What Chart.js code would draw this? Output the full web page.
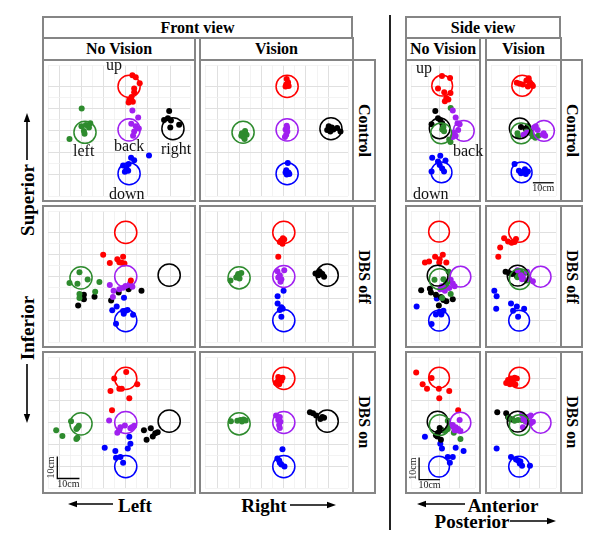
<!DOCTYPE html>
<html><head><meta charset="utf-8">
<script src="https://cdn.jsdelivr.net/npm/chart.js@4.4.1/dist/chart.umd.min.js"></script>
<style>
body{margin:0;background:#fff;}
#root{position:relative;width:600px;height:537px;overflow:hidden;font-family:"Liberation Serif","DejaVu Serif",serif;background:#fff;}
.box{position:absolute;box-sizing:border-box;border:2px solid #858585;background:#fff;}
.strip{display:flex;align-items:center;justify-content:center;font-weight:bold;font-size:16px;color:#000;}
.vtext{writing-mode:vertical-rl;}
.lbl{position:absolute;font-size:16px;line-height:16px;white-space:nowrap;color:#111;}
.ax{position:absolute;font-weight:bold;font-size:19px;line-height:19px;white-space:nowrap;transform:translate(-50%,-50%);}
canvas{position:absolute;}
svg{position:absolute;left:0;top:0;}
</style></head><body><div id="root"></div>
<script>
// ---------- data (cm) ----------
const TARGET_RADIUS = 5;
const ORDER = ['up','back','left','right','down'];
const COLORS = {up:'#ff0000', back:'#a020f0', left:'#2e8b2e', right:'#000000', down:'#0000ff'};

// target centres
const FRONT_TARGETS_CONTROL = {up:[1.5,20], back:[1.5,0.3], left:[-18.4,-0.8], right:[21.3,0.8], down:[1.5,-19.6]};
const FRONT_TARGETS = {up:[0,20], back:[0,0], left:[-20.2,-0.6], right:[19.6,0.6], down:[0,-20]};
const SIDE_TARGETS_CONTROL = {up:[1.5,20.3], back:[11.9,-0.2], left:[1.0,-1.3], right:[0.3,1.0], down:[1.2,-19.0]};
const SIDE_TARGETS = {up:[0,20.3], back:[10.3,-0.1], left:[0.3,-1.2], right:[-0.7,0.4], down:[0,-20]};

// front view, no vision
const FRONT_NV_CONTROL = {
  up:[[3.0,25.1],[4.5,24.1],[6.3,21.4],[3.8,19.0],[3.8,17.3],[2.6,15.2],[1.6,14.0],[3.2,13.0],[1.3,12.7]],
  back:[[3.0,9.1],[5.6,5.9],[2.5,3.1],[4.5,1.9],[5.9,0.9],[3.8,-0.5],[3.3,-2.4]],
  left:[[-19.9,10.0],[-20.0,1.9],[-18.0,2.5],[-16.0,3.3],[-16.6,1.4],[-18.9,-0.2],[-18.6,-1.5],[-25.4,-3.8]],
  right:[[19.6,8.8],[17.3,4.8],[19.0,5.6],[20.4,4.5],[20.1,1.4],[24.1,2.6]],
  down:[[10.5,-11.3],[2.4,-12.3],[3.8,-13.5],[1.3,-15.2],[-1.2,-15.9],[0.3,-17.0],[-0.4,-18.7],[1.1,-18.3]]
};
const FRONT_NV_OFF = {
  up:[[-10.2,9.9],[-7.2,6.1],[-3.8,7.8],[-2.9,6.5],[-1.2,8.9],[-1.8,6.2],[-0.6,5.9],[2.3,-1.8]],
  back:[[-7.2,-3.9],[-5.5,-6.5],[-5.8,-9.3],[-2.9,-5.8],[-1.2,-5.1],[-0.1,-4.3],[3.0,-4.6],[1.9,-3.2]],
  left:[[-20.9,1.9],[-25.4,-2.9],[-21.8,-3.3],[-17.2,-1.4],[-11.9,-2.5],[-20.9,-7.9],[-13.8,-6.9],[-20.9,-9.7]],
  right:[[-21.5,-13.2],[-18.9,-8.3],[-18.9,-10.3],[-14.1,-9.2],[-6.6,-10.9],[-3.2,-7.2],[1.3,-5.8],[7.1,-6.5]],
  down:[[-0.8,-9.6],[-4.1,-13.6],[-6.1,-15.3],[-1.2,-15.7],[-0.1,-15.5],[0.8,-15.2],[-0.9,-16.9],[3.3,-17.3],[-4.4,-21.4]]
};
const FRONT_NV_ON = {
  up:[[0.2,22.9],[-5.2,20.0],[-2.9,15.3],[-1.8,15.3],[5.2,17.4],[-6.9,14.3],[1.6,11.0],[-6.2,5.6]],
  back:[[-7.5,0.9],[-2.4,-2.1],[-0.4,-1.4],[-3.8,-4.6],[-2.9,-3.5],[2.8,-2.1],[3.8,-1.5],[2.1,-2.6]],
  left:[[-24.7,0.6],[-22.3,-2.9],[-21.2,-1.5],[-21.8,-2.4],[-31.4,-3.5],[-28.6,-6.1],[-22.3,-7.5],[-21.8,-6.9]],
  right:[[8.2,-3.5],[11.3,-2.6],[13.3,-4.9],[14.4,-4.4],[12.2,-6.3],[9.4,-7.8]],
  down:[[1.6,-6.5],[2.1,-9.6],[0.9,-11.8],[-9.5,-11.5],[-4.7,-12.9],[-4.4,-16.0],[-2.4,-15.7],[-1.2,-18.3]]
};
// front view, vision
const FRONT_V_CONTROL = {
  up:[[1.3,23.3],[1.9,21.9],[1.1,20.9],[2.2,20.2],[0.8,19.9],[1.8,21.0]],
  back:[[1.3,2.1],[0.8,0.5],[1.6,-0.5],[1.1,-1.9],[0.5,-2.9],[1.5,1.2]],
  left:[[-17.5,-0.2],[-18.9,-1.2],[-16.8,-1.9],[-18.2,-2.9],[-19.2,-2.4],[-17.7,-3.8]],
  right:[[20.3,1.9],[21.7,1.4],[19.6,0.2],[22.4,0.5],[24.1,1.1],[25.6,-0.5],[21.0,-0.5]],
  down:[[1.8,-14.7],[1.1,-18.0],[2.1,-19.0],[1.3,-20.0],[2.5,-19.7],[0.8,-19.1]]
};
const FRONT_V_OFF = {
  up:[[-0.4,17.4],[-1.2,16.3],[0.2,16.8],[-1.8,15.6],[-0.6,14.9],[-2.5,8.9]],
  back:[[-2.9,2.4],[0.2,2.8],[-1.8,0.6],[-1.1,-1.2],[-2.5,-0.4],[-1.5,-2.4]],
  left:[[-20.6,1.1],[-19.2,1.6],[-21.5,-0.4],[-20.0,-0.9],[-24.1,-1.8],[-20.9,0.2]],
  right:[[14.3,1.4],[16.0,2.4],[15.6,0.6],[17.4,1.1],[18.2,-0.1],[16.7,1.6]],
  down:[[-0.1,-6.5],[-2.8,-8.9],[-2.8,-12.2],[-1.1,-13.9],[-1.8,-15.2],[-0.5,-14.6],[-1.1,-18.3]]
};
const FRONT_V_ON = {
  up:[[-2.5,20.6],[-1.5,19.9],[-0.6,20.3],[-2.9,18.5],[-2.1,17.4],[-3.5,17.9],[-1.1,18.9]],
  back:[[-3.5,3.2],[-1.8,2.5],[-2.5,1.1],[-1.5,0.3],[-2.1,-1.1],[-1.8,-2.5]],
  left:[[-23.9,0.6],[-21.0,0.8],[-19.6,1.1],[-18.2,1.4],[-17.2,0.9],[-18.9,0.5]],
  right:[[11.8,4.6],[13.2,4.2],[14.6,3.2],[16.5,1.6],[17.4,2.5],[18.2,2.2]],
  down:[[-0.6,-12.1],[-2.9,-16.3],[-1.8,-18.2],[-1.1,-19.1],[0.3,-20.0],[-2.1,-17.2]]
};
// side view, no vision
const SIDE_NV_CONTROL = {
  up:[[1.4,24.7],[5.3,23.8],[-0.5,19.0],[2.5,17.3],[5.5,17.0],[3.5,14.7],[4.5,14.0],[2.8,13.3]],
  back:[[6.6,9.1],[8.0,5.9],[8.9,3.3],[9.9,2.8],[9.2,0.2],[7.1,-0.9],[8.0,-2.4],[6.6,-2.9]],
  left:[[5.6,10.2],[2.1,1.6],[1.5,0.5],[2.4,-0.3],[4.9,-4.1],[5.5,-5.2]],
  right:[[-1.8,8.8],[-0.5,5.6],[0.6,4.8],[-3.6,2.8],[1.5,3.3],[1.8,1.6]],
  down:[[-3.3,-12.3],[0.6,-11.5],[-0.5,-14.0],[3.1,-13.6],[0.3,-15.7],[1.5,-17.2],[2.4,-18.6],[-3.6,-18.6]]
};
const SIDE_NV_OFF = {
  up:[[-6.8,6.3],[-4.8,6.8],[-1.9,8.9],[0.3,7.8],[1.8,9.9],[0.1,6.3],[3.5,6.3]],
  back:[[5.6,-1.5],[6.6,-3.2],[7.5,-4.4],[2.1,-5.0],[0.6,-5.8],[2.8,-6.5],[1.4,-4.4],[4.9,-5.2]],
  left:[[4.6,2.1],[2.1,-1.2],[3.5,-2.6],[-2.2,-1.5],[5.6,-7.9],[1.5,-9.7],[2.8,-4.4]],
  right:[[-8.6,-6.2],[-4.4,-5.5],[-3.9,-7.2],[-1.5,-8.3],[0.9,-9.3],[2.1,-10.6],[3.5,-11.2],[6.6,-10.3],[-0.1,-13.2]],
  down:[[-10.8,-13.6],[-1.5,-17.2],[0.3,-16.0],[2.1,-15.5],[1.1,-17.2],[-3.6,-21.5],[-1.1,-10.0]]
};
const SIDE_NV_ON = {
  up:[[-11.0,22.7],[-3.6,20.2],[-7.9,17.4],[-5.8,15.3],[-0.1,15.3],[4.9,14.3],[0.1,11.0],[9.2,5.6]],
  back:[[6.6,-1.1],[8.0,-2.1],[9.9,1.1],[9.2,-2.9],[10.3,-3.9],[7.5,-3.5]],
  left:[[4.2,0.8],[5.6,-1.1],[4.2,-2.9],[7.1,-4.6],[10.3,-7.5],[2.8,-3.9]],
  right:[[0.3,-2.5],[1.5,-3.5],[-0.5,-4.6],[-1.5,-5.8],[-0.8,-6.3],[0.9,-7.8]],
  down:[[-6.8,-6.5],[0.6,-9.6],[1.4,-11.8],[8.0,-11.5],[11.8,-12.9],[4.2,-15.7],[6.6,-15.7],[5.2,-18.2]]
};
// side view, vision
const SIDE_V_CONTROL = {
  up:[[-1.1,21.6],[0.3,21.2],[1.8,20.9],[3.5,22.7],[4.6,23.7],[5.2,21.6],[6.1,20.9],[4.2,19.9],[6.6,20.2]],
  back:[[2.1,-1.9],[3.8,-0.9],[7.1,1.4],[8.0,1.9],[8.9,0.2],[11.3,-1.9],[12.5,-2.4],[11.8,-1.2]],
  left:[[-0.8,-1.2],[-0.5,-2.6],[3.5,-0.5],[5.6,-1.2],[6.6,-2.6],[7.8,-3.3],[9.2,-2.4]],
  right:[[0.9,1.6],[3.1,0.9],[4.2,1.9],[5.2,0.5]],
  down:[[-2.2,-15.2],[-0.1,-18.3],[0.9,-19.4],[2.1,-18.6],[3.2,-19.7],[4.2,-18.6],[2.8,-17.6]]
};
const SIDE_V_OFF = {
  up:[[-7.2,17.4],[-5.3,15.9],[-3.6,15.3],[-2.2,15.6],[-1.5,17.0],[-9.1,13.2],[-10.0,8.9]],
  back:[[-0.8,2.8],[0.9,0.6],[1.8,-0.3],[3.8,2.1],[4.9,-1.2],[6.6,-2.2],[1.4,-1.2]],
  left:[[-0.8,-0.3],[0.6,2.1],[2.8,1.6],[3.5,-1.8],[-0.2,0.6]],
  right:[[-6.5,2.1],[-4.8,1.6],[-3.3,1.1],[-1.9,1.4],[-1.1,0.2]],
  down:[[-11.9,-6.5],[-10.8,-8.9],[-11.0,-14.6],[-3.9,-12.2],[-2.9,-15.5],[-1.1,-13.6],[-0.5,-18.3],[2.4,-14.6]]
};
const SIDE_V_ON = {
  up:[[-5.3,19.3],[-3.9,19.9],[-2.2,20.3],[-1.1,19.9],[-6.2,17.9],[-4.4,17.4],[-2.9,18.2],[-1.8,17.2]],
  back:[[1.4,3.6],[2.1,1.4],[4.2,2.5],[5.6,3.2],[3.5,0.3],[5.6,-0.3],[6.6,0.3],[1.8,-2.1]],
  left:[[-5.0,2.2],[-2.2,0.8],[-0.5,1.1],[1.4,1.1],[3.2,0.4]],
  right:[[-10.5,4.6],[-6.2,4.2],[-5.3,2.5],[-4.4,1.6],[-3.3,1.4]],
  down:[[-10.8,-11.8],[-3.9,-15.7],[-1.5,-16.8],[-0.5,-17.2],[0.6,-17.7],[1.4,-19.6],[5.2,-19.6],[0.3,-18.6]]
};

const ROW_LABELS = ['Control','DBS off','DBS on'];
const COL_LABELS = ['No Vision','Vision'];
const VIEW_LABELS = ['Front view','Side view'];

// ---------- layout ----------
const root = document.getElementById('root');
function box(l,t,r,b,text,vertical){
  const d=document.createElement('div');
  d.className='box'+(text!==undefined?' strip':'');
  d.style.left=l+'px'; d.style.top=t+'px'; d.style.width=(r-l)+'px'; d.style.height=(b-t)+'px';
  if(text!==undefined){const s=document.createElement('span'); s.textContent=text; if(vertical) s.className='vtext'; d.appendChild(s);}
  root.appendChild(d); return d;
}
function label(text,l,t,size){
  const s=document.createElement('div'); s.className='lbl'; s.textContent=text;
  s.style.left=l+'px'; s.style.top=t+'px'; if(size) s.style.fontSize=size+'px';
  root.appendChild(s);
}
function axLabel(text,cx,cy,rot){
  const s=document.createElement('div'); s.className='ax'; s.textContent=text;
  s.style.left=cx+'px'; s.style.top=cy+'px';
  if(rot) s.style.transform='translate(-50%,-50%) rotate('+rot+'deg)';
  root.appendChild(s);
}

function axis(r){
  return {type:'linear', min:r[0], max:r[1],
    ticks:{display:false, stepSize:5},
    border:{display:false},
    grid:{drawTicks:false,
      color:c=>{const v=c.tick?c.tick.value:0.5; return Math.abs(v/10-Math.round(v/10))<1e-6?'#e0e0e0':'#f0f0f0';},
      lineWidth:c=>{const v=c.tick?c.tick.value:0.5; return Math.abs(v/10-Math.round(v/10))<1e-6?1:0.8;}},
    afterFit:s=>{ if(s.isHorizontal()) s.height=0; else s.width=0; }
  };
}

const scaleBarPlugin = {
  id:'scaleBar',
  afterDatasetsDraw(chart,args,o){
    if(!o || o.x===undefined) return;
    const sx=chart.scales.x, sy=chart.scales.y, ctx=chart.ctx;
    const x0=sx.getPixelForValue(o.x), x1=sx.getPixelForValue(o.x+o.len);
    const y0=sy.getPixelForValue(o.y), y1=sy.getPixelForValue(o.y+o.len);
    ctx.save();
    ctx.strokeStyle='#000'; ctx.lineWidth=1.3;
    ctx.beginPath(); ctx.moveTo(x1,y0); ctx.lineTo(x0,y0);
    if(o.vertical) ctx.lineTo(x0,y1);
    ctx.stroke();
    ctx.fillStyle='#222'; ctx.font='10px "Liberation Serif"'; ctx.textAlign='center';
    ctx.textBaseline='top'; ctx.fillText('10cm',(x0+x1)/2,y0+1);
    if(o.vertical){ ctx.translate(x0-1,(y0+y1)/2); ctx.rotate(-Math.PI/2); ctx.textBaseline='bottom'; ctx.fillText('10cm',0,0); }
    ctx.restore();
  }
};

function panel(l,t,w,h,xr,yr,targets,pts,bar){
  const c=document.createElement('canvas'); c.width=w; c.height=h;
  c.style.left=l+'px'; c.style.top=t+'px'; c.style.width=w+'px'; c.style.height=h+'px';
  root.appendChild(c);
  const datasets=[];
  for(const k of ORDER){
    datasets.push({data:[{x:targets[k][0],y:targets[k][1]}],
      pointRadius:ctx=>{const s=ctx.chart.scales.x; return Math.abs(s.getPixelForValue(TARGET_RADIUS)-s.getPixelForValue(0));},
      pointBackgroundColor:'rgba(0,0,0,0)', pointBorderColor:COLORS[k], pointBorderWidth:1.5});
  }
  for(const k of ORDER){
    datasets.push({data:pts[k].map(p=>({x:p[0],y:p[1]})), pointRadius:3,
      pointBackgroundColor:COLORS[k], pointBorderColor:COLORS[k], pointBorderWidth:0});
  }
  new Chart(c,{type:'scatter', data:{datasets},
    options:{responsive:false, animation:false, events:[], layout:{padding:0},
      plugins:{legend:{display:false}, tooltip:{enabled:false}, scaleBar: bar||false},
      scales:{x:axis(xr), y:axis(yr)}},
    plugins:[scaleBarPlugin]});
}

// headers
box(42,16,353,39,VIEW_LABELS[0]);
box(405,16,561,39,VIEW_LABELS[1]);
const COLS = [
  {l:42,r:196,x:[-35.1,29.0]},
  {l:199,r:354,x:[-35.6,29.0]},
  {l:405,r:481,x:[-13.5,17.3]},
  {l:485,r:562,x:[-13.5,17.7]}
];
const ROWS = [{t:59,b:202},{t:205,b:348},{t:351,b:494}];
const Y_RANGE = [-29.7,29.7];
box(COLS[0].l,37,COLS[0].r,61,COL_LABELS[0]);
box(COLS[1].l,37,COLS[1].r,61,COL_LABELS[1]);
box(COLS[2].l,37,COLS[2].r,61,COL_LABELS[0]);
box(COLS[3].l,37,COLS[3].r,61,COL_LABELS[1]);

const GRID = [
  [FRONT_NV_CONTROL, FRONT_V_CONTROL, SIDE_NV_CONTROL, SIDE_V_CONTROL],
  [FRONT_NV_OFF, FRONT_V_OFF, SIDE_NV_OFF, SIDE_V_OFF],
  [FRONT_NV_ON, FRONT_V_ON, SIDE_NV_ON, SIDE_V_ON]
];
const BARS = {
  '2-0':{x:-30.9,y:-25.4,len:10,vertical:true},
  '2-2':{x:-9.6,y:-25.9,len:10,vertical:true},
  '0-3':{x:6.6,y:-23.7,len:10,vertical:false}
};
ROWS.forEach((R,ri)=>{
  COLS.forEach((C,ci)=>{
    box(C.l,R.t,C.r,R.b);
    const front = ci<2;
    const tg = ri===0 ? (front?FRONT_TARGETS_CONTROL:SIDE_TARGETS_CONTROL) : (front?FRONT_TARGETS:SIDE_TARGETS);
    panel(C.l+2,R.t+2,C.r-C.l-4,R.b-R.t-4,C.x,Y_RANGE,tg,GRID[ri][ci],BARS[ri+'-'+ci]);
  });
  box(352,R.t,376,R.b,ROW_LABELS[ri],true);
  box(560,R.t,583,R.b,ROW_LABELS[ri],true);
});

// target names
label('up',106,57); label('left',73,143); label('back',114,138); label('right',161,141); label('down',109,186);
label('up',416,60); label('back',453,143); label('down',413,186);

// axis labels
axLabel('Superior',27,200,-90);
axLabel('Inferior',27,328,-90);
axLabel('Left',135,505);
axLabel('Right',264,505);
axLabel('Anterior',503,505);
axLabel('Posterior',472,521);

// arrows & separator
const NS='http://www.w3.org/2000/svg';
const svg=document.createElementNS(NS,'svg'); svg.setAttribute('width',600); svg.setAttribute('height',537);
root.appendChild(svg);
function line(x1,y1,x2,y2,w,col){const e=document.createElementNS(NS,'line');e.setAttribute('x1',x1);e.setAttribute('y1',y1);e.setAttribute('x2',x2);e.setAttribute('y2',y2);e.setAttribute('stroke',col||'#000');e.setAttribute('stroke-width',w);svg.appendChild(e);}
function arrow(x1,y1,x2,y2){
  const dx=x2-x1, dy=y2-y1, L=Math.hypot(dx,dy), ux=dx/L, uy=dy/L, hl=9, hw=3.2;
  line(x1,y1,x2-ux*hl*0.6,y2-uy*hl*0.6,1.6);
  const p=document.createElementNS(NS,'polygon');
  const bx=x2-ux*hl, by=y2-uy*hl;
  p.setAttribute('points',`${x2},${y2} ${bx-uy*hw},${by+ux*hw} ${bx+uy*hw},${by-ux*hw}`);
  p.setAttribute('fill','#000'); svg.appendChild(p);
}
line(390,15,390,530,2,'#222');
arrow(27,160,27,113);
arrow(27,364,27,423);
arrow(113,504,68,504);
arrow(290,505,336,505);
arrow(465,504,417,504);
arrow(510,521,556,521);
</script>
</body></html>
